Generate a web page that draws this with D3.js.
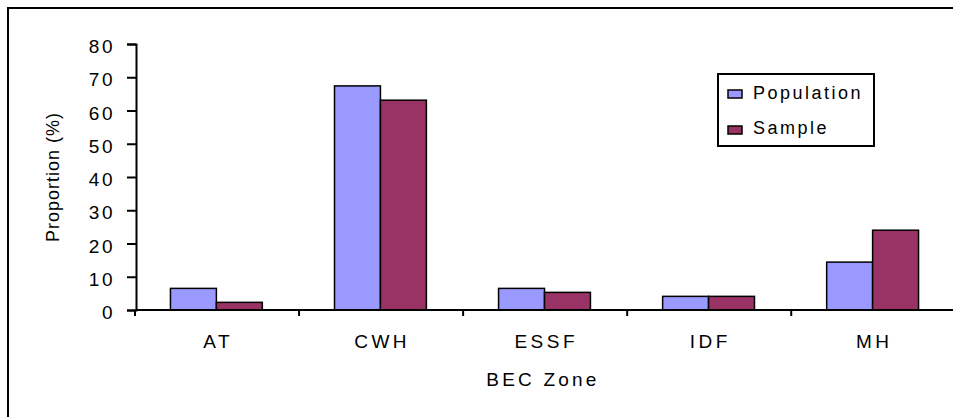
<!DOCTYPE html>
<html>
<head>
<meta charset="utf-8">
<script src="https://cdn.jsdelivr.net/npm/d3@7"></script>
<style>
  body { margin: 0; background: #fff; }
  text { font-family: 'Liberation Sans', Arial, sans-serif; fill: #000; }
</style>
</head>
<body>
<div id="chart"></div>
<script>
// data
var zones = ['AT', 'CWH', 'ESSF', 'IDF', 'MH'];
var seriesNames = ['Population', 'Sample'];
var population = [6.5, 67.4, 6.5, 4.1, 14.4];
var sample = [2.3, 63.1, 5.3, 4.1, 24.0];
var yTicks = [0, 10, 20, 30, 40, 50, 60, 70, 80];
var colors = ['#9999FF', '#993366'];

var W = 953, H = 417;
var plot = { left: 136, right: 953, top: 44, bottom: 310 };

var svg = d3.select('#chart')
  .append('svg')
    .attr('width', W)
    .attr('height', H);

// outer frame
svg.append('rect')
  .attr('x', 8).attr('y', 8)
  .attr('width', W + 20).attr('height', H + 20)
  .attr('fill', 'none')
  .attr('stroke', '#000')
  .attr('stroke-width', 2);

// scales
var X = d3.scaleBand()
  .domain(zones)
  .range([plot.left, plot.right])
  .paddingInner(0.44)
  .paddingOuter(0.21);

var X1 = d3.scaleBand()
  .domain(seriesNames)
  .range([0, X.bandwidth()]);

var Y = d3.scaleLinear()
  .domain([0, 80])
  .range([plot.bottom, plot.top]);

// bars
var rows = zones.map(function (z, i) {
  return { zone: z, values: [population[i], sample[i]] };
});

var groups = svg.selectAll('g.grp')
  .data(rows)
  .enter().append('g')
    .attr('class', 'grp')
    .attr('transform', function (d) { return 'translate(' + X(d.zone) + ',0)'; });

groups.selectAll('rect')
  .data(function (d) { return d.values.map(function (v, j) { return { s: seriesNames[j], v: v, j: j }; }); })
  .enter().append('rect')
    .attr('x', function (d) { return X1(d.s); })
    .attr('y', function (d) { return Y(d.v); })
    .attr('width', X1.bandwidth())
    .attr('height', function (d) { return plot.bottom - Y(d.v); })
    .attr('fill', function (d) { return colors[d.j]; })
    .attr('stroke', '#000')
    .attr('stroke-width', 1.5);

// Y axis
var yAxis = svg.append('g')
  .attr('transform', 'translate(' + plot.left + ',0)')
  .call(d3.axisLeft(Y).tickValues(yTicks).tickSize(9).tickPadding(12));
yAxis.select('.domain').attr('stroke-width', 2);
yAxis.selectAll('.tick line').attr('stroke-width', 2);
yAxis.selectAll('.tick text')
  .attr('font-size', '19px')
  .attr('dy', '0.45em')
  .attr('letter-spacing', '2.5px')
  .style('font-family', "'Liberation Sans', Arial, sans-serif");

// X axis line + boundary ticks
var step = X.step();
svg.append('line')
  .attr('x1', plot.left).attr('x2', W + 10)
  .attr('y1', plot.bottom).attr('y2', plot.bottom)
  .attr('stroke', '#000').attr('stroke-width', 2);
svg.selectAll('line.xt')
  .data(d3.range(zones.length))
  .enter().append('line')
    .attr('class', 'xt')
    .attr('x1', function (i) { return plot.left - 1 + i * step; })
    .attr('x2', function (i) { return plot.left - 1 + i * step; })
    .attr('y1', plot.bottom).attr('y2', plot.bottom + 6)
    .attr('stroke', '#000').attr('stroke-width', 2);

svg.selectAll('text.cat')
  .data(zones)
  .enter().append('text')
    .attr('class', 'cat')
    .attr('x', function (d) { return X(d) + X.bandwidth() / 2 + 1.7; })
    .attr('y', plot.bottom + 38)
    .attr('text-anchor', 'middle')
    .attr('font-size', '19px')
    .attr('letter-spacing', '3.5px')
    .text(function (d) { return d; });

// axis titles
svg.append('text')
  .attr('x', 543)
  .attr('y', 386)
  .attr('text-anchor', 'middle')
  .attr('font-size', '19px')
  .attr('letter-spacing', '3.2px')
  .text('BEC Zone');

svg.append('text')
  .attr('transform', 'translate(59,177) rotate(-90)')
  .attr('text-anchor', 'middle')
  .attr('font-size', '18px')
  .attr('letter-spacing', '1px')
  .text('Proportion (%)');

// legend
var lg = svg.append('g').attr('transform', 'translate(718,74)');
lg.append('rect')
  .attr('width', 156).attr('height', 72)
  .attr('fill', '#fff')
  .attr('stroke', '#000').attr('stroke-width', 2);
seriesNames.forEach(function (name, i) {
  lg.append('rect')
    .attr('x', 10).attr('y', 16 + i * 36)
    .attr('width', 14).attr('height', 8)
    .attr('fill', colors[i])
    .attr('stroke', '#000').attr('stroke-width', 1.5);
  lg.append('text')
    .attr('x', 35).attr('y', 25 + i * 35)
    .attr('font-size', '18px')
    .attr('letter-spacing', '2.5px')
    .text(name);
});
</script>
</body>
</html>
